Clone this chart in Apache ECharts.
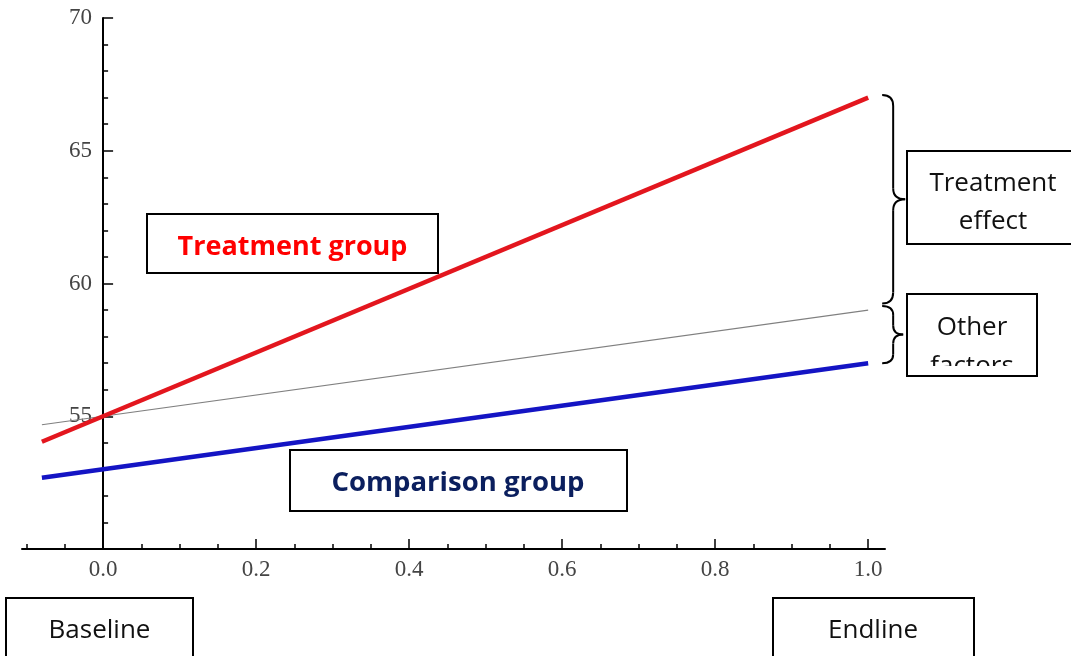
<!DOCTYPE html>
<html><head><meta charset="utf-8">
<script src="https://cdn.jsdelivr.net/npm/echarts@6/dist/echarts.min.js"></script>
<style>html,body{margin:0;padding:0;background:#fff}#c{width:1071px;height:656px}</style>
</head><body><div id="c"></div>
<script>
// ---- data ----
const xValues = [-0.08, 1.0];
const treatmentGroup = [54.04, 67];
const withoutTreatment = [54.68, 59];
const comparisonGroup = [52.68, 57];
const xTickLabels = [0, 0.2, 0.4, 0.6, 0.8, 1.0];
const xMinorTicks = [-0.1, -0.05, 0.05, 0.1, 0.15, 0.25, 0.3, 0.35, 0.45, 0.5, 0.55, 0.65, 0.7, 0.75, 0.85, 0.9, 0.95];
const yTickLabels = [55, 60, 65, 70];
const yMajorTicks = [50, 55, 60, 65, 70];
const yMinorTicks = [51, 52, 53, 54, 56, 57, 58, 59, 61, 62, 63, 64, 66, 67, 68, 69];
const treatmentEffectSpan = [67.1, 59.25];
const otherFactorsSpan = [59.15, 57.0];
const groupLabels = ['Treatment group', 'Comparison group'];
const sideLabels = [['Treatment', 'effect'], ['Other', 'factors']];
const timeLabels = ['Baseline', 'Endline'];

const pairs = (ys) => xValues.map((x, i) => [x, ys[i]]);

// layout
const W = 1071, gLeft = 22, gRight = 186, gTop = 18, gBottom = 107;
const xMin = -0.106, xMax = 1.022;
const gWidth = W - gLeft - gRight;
const yAxisOffset = -(0 - xMin) / (xMax - xMin) * gWidth; // move y axis onto x = 0

const chart = echarts.init(document.getElementById('c'), null, {renderer: 'canvas'});
const axisFont = {fontFamily: '"Liberation Serif", "Times New Roman", serif', fontSize: 23, color: '#444'};
const lineStyleAxis = {color: '#000', width: 2};
const tickStyle = {color: '#000', width: 1.5};

chart.setOption({
  animation: false,
  backgroundColor: '#fff',
  grid: {left: gLeft, right: gRight, top: gTop, bottom: gBottom, containLabel: false, outerBoundsMode: 'none'},
  xAxis: [
    {type: 'value', min: xMin, max: xMax, position: 'bottom',
     axisLine: {show: true, onZero: false, lineStyle: lineStyleAxis},
     axisTick: {show: true, inside: true, length: 10, customValues: xTickLabels, lineStyle: tickStyle},
     axisLabel: {show: true, customValues: xTickLabels, margin: 9, formatter: v => Number(v).toFixed(1), ...axisFont},
     splitLine: {show: false}},
    {type: 'value', min: xMin, max: xMax, position: 'bottom',
     axisLine: {show: false, onZero: false},
     axisTick: {show: true, inside: true, length: 5, customValues: xMinorTicks, lineStyle: tickStyle},
     axisLabel: {show: false}, splitLine: {show: false}}
  ],
  yAxis: [
    {type: 'value', min: 50, max: 70, position: 'left', offset: yAxisOffset,
     axisLine: {show: true, onZero: false, lineStyle: lineStyleAxis},
     axisTick: {show: true, inside: true, length: 10, customValues: yMajorTicks, lineStyle: tickStyle},
     axisLabel: {show: true, customValues: yTickLabels, margin: 11, ...axisFont},
     splitLine: {show: false}},
    {type: 'value', min: 50, max: 70, position: 'left', offset: yAxisOffset,
     axisLine: {show: false, onZero: false},
     axisTick: {show: true, inside: true, length: 5, customValues: yMinorTicks, lineStyle: tickStyle},
     axisLabel: {show: false}, splitLine: {show: false}}
  ],
  series: [
    {type: 'line', name: 'Without treatment', data: pairs(withoutTreatment), symbol: 'none',
     lineStyle: {color: '#808080', width: 1.2}, z: 2},
    {type: 'line', name: 'Comparison group', data: pairs(comparisonGroup), symbol: 'none',
     lineStyle: {color: '#1414c4', width: 4.5}, z: 3},
    {type: 'line', name: 'Treatment group', data: pairs(treatmentGroup), symbol: 'none',
     lineStyle: {color: '#e3161e', width: 4.5}, z: 4}
  ]
});

// ---- annotations ----
const boxFont = '"Open Sans", "Noto Sans", sans-serif';
const els = [];
function box(x, y, w, h, z) {
  els.push({type: 'rect', shape: {x, y, width: w, height: h}, style: {fill: '#fff', stroke: '#000', lineWidth: 2}, z: z || 100});
}
function txt(x, y, s, size, color, weight, z) {
  els.push({type: 'text', x, y, style: {text: s, fill: color, font: (weight || 'normal') + ' ' + size + 'px ' + boxFont, align: 'center', verticalAlign: 'middle'}, z: z || 101});
}
box(147, 214, 291, 59); txt(292.5, 247, groupLabels[0], 27, '#ff0000', 'bold');
box(290, 450, 337, 61); txt(458, 483, groupLabels[1], 27.5, '#0b1f5e', 'bold');
box(907, 151, 172, 93); txt(993, 184, sideLabels[0][0], 26, '#111'); txt(993, 222, sideLabels[0][1], 26, '#111');
box(907, 294, 130, 82); txt(972, 328, sideLabels[1][0], 26, '#111'); txt(972, 367, sideLabels[1][1], 26, '#111');
els.push({type: 'rect', shape: {x: 908, y: 366, width: 128, height: 9}, style: {fill: '#fff'}, z: 102});
els.push({type: 'rect', shape: {x: 907, y: 294, width: 130, height: 82}, style: {fill: null, stroke: '#000', lineWidth: 2}, z: 103});
box(6, 598, 187, 80); txt(99.5, 631, timeLabels[0], 26, '#111');
box(773, 598, 201, 80); txt(873, 631, timeLabels[1], 26, '#111');

function brace(span, tipX, r) {
  const pTop = chart.convertToPixel({xAxisIndex: 0, yAxisIndex: 0}, [1.0, span[0]]);
  const pBot = chart.convertToPixel({xAxisIndex: 0, yAxisIndex: 0}, [1.0, span[1]]);
  const x0 = pTop[0] + 14, x1 = x0 + 11, x2 = x0 + tipX;
  const yT = pTop[1], yB = pBot[1], ym = (yT + yB) / 2;
  const st = {stroke: '#000', lineWidth: 2, fill: null};
  els.push({type: 'bezierCurve', shape: {x1: x0, y1: yT, cpx1: x1, cpy1: yT, x2: x1, y2: yT + r}, style: st, z: 90});
  els.push({type: 'line', shape: {x1: x1, y1: yT + r, x2: x1, y2: ym - r}, style: st, z: 90});
  els.push({type: 'bezierCurve', shape: {x1: x1, y1: ym - r, cpx1: x1, cpy1: ym, x2: x2, y2: ym}, style: st, z: 90});
  els.push({type: 'bezierCurve', shape: {x1: x2, y1: ym, cpx1: x1, cpy1: ym, x2: x1, y2: ym + r}, style: st, z: 90});
  els.push({type: 'line', shape: {x1: x1, y1: ym + r, x2: x1, y2: yB - r}, style: st, z: 90});
  els.push({type: 'bezierCurve', shape: {x1: x1, y1: yB - r, cpx1: x1, cpy1: yB, x2: x0, y2: yB}, style: st, z: 90});
}
brace(treatmentEffectSpan, 23, 11);
brace(otherFactorsSpan, 21, 9);

chart.setOption({graphic: {elements: els}});
</script>
</body></html>
